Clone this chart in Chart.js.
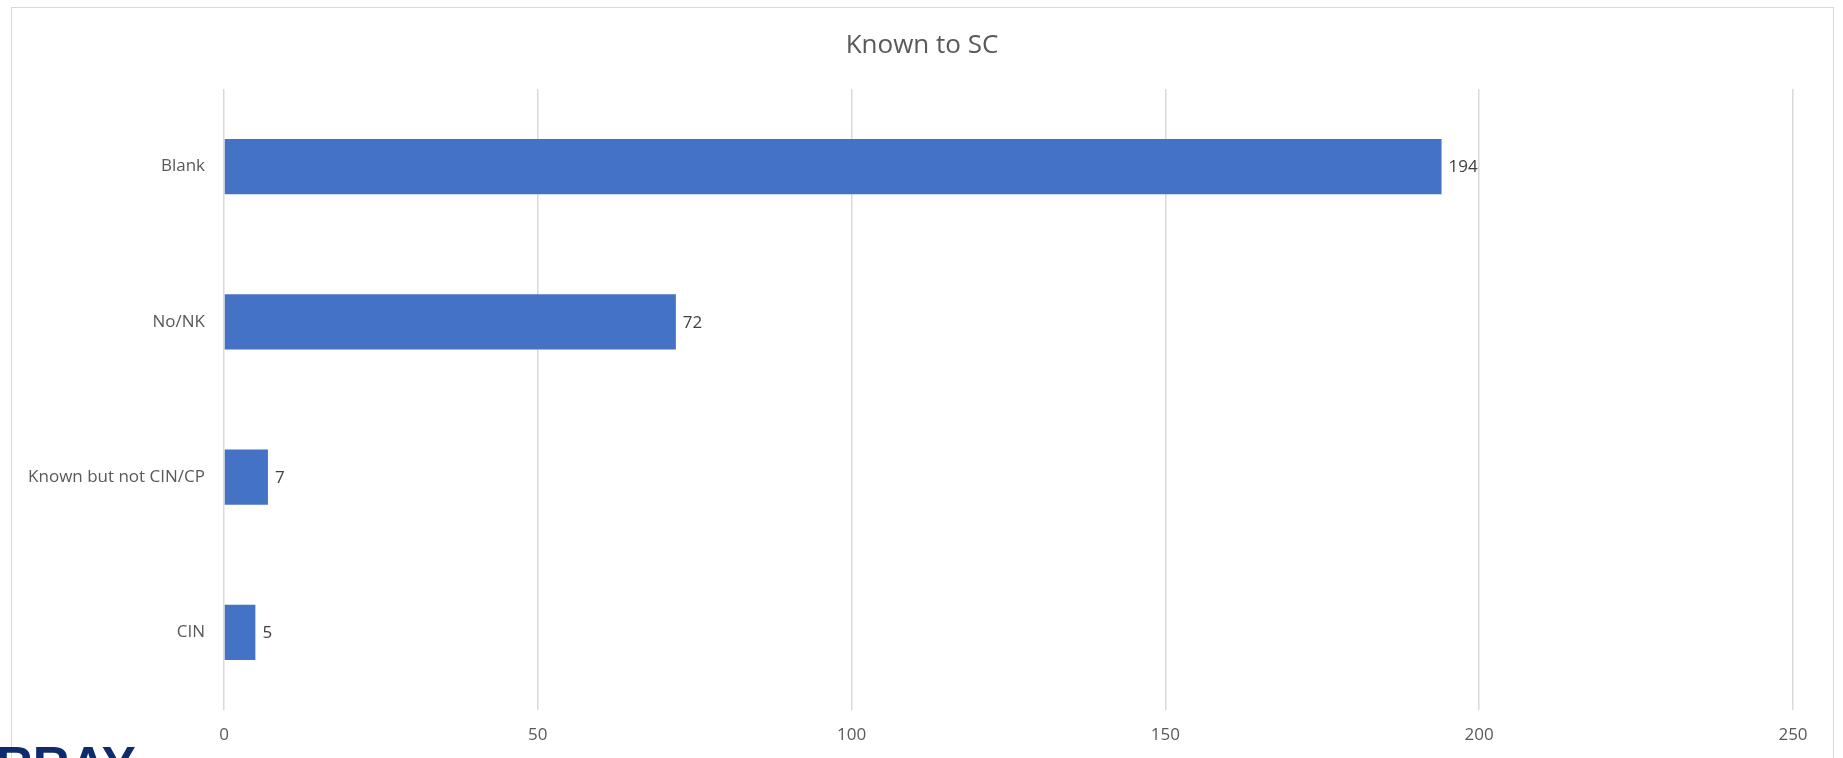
<!DOCTYPE html>
<html>
<head>
<meta charset="utf-8">
<script src="https://cdn.jsdelivr.net/npm/chart.js@4.4.0/dist/chart.umd.min.js"></script>
<style>
  html, body { margin: 0; padding: 0; background: #fff; overflow: hidden; }
  #wrap { position: relative; width: 1843px; height: 758px; }
  #frame { position: absolute; left: 11px; top: 7px; width: 1823px; height: 800px; border: 1.5px solid #d9d9d9; box-sizing: border-box; }
  #logo { position: absolute; left: -4px; top: 740px; font: bold 51px "Liberation Sans", Arial, sans-serif; line-height: 1; color: #0f2b6b; }
  canvas { position: absolute; left: 0; top: 0; }
</style>
</head>
<body>
<div id="wrap">
  <div id="frame"></div>
  <canvas id="knownChart" width="1843" height="758"></canvas>
  <div id="logo">RRAY</div>
</div>
<script>
const chartTitle = "Known to SC";
const categories = ["Blank", "No/NK", "Known but not CIN/CP", "CIN"];
const counts = [194, 72, 7, 5];
const xTicks = [0, 50, 100, 150, 200, 250];

const FONT = '"Open Sans", "Liberation Sans", sans-serif';

// title centred on the outer frame, not the canvas
const frameTitle = {
  id: "frameTitle",
  afterDraw(chart) {
    const ctx = chart.ctx;
    ctx.save();
    ctx.font = "26px " + FONT;
    ctx.fillStyle = "#595959";
    ctx.textAlign = "center";
    ctx.textBaseline = "middle";
    ctx.fillText(chartTitle, 922, 46);
    ctx.restore();
  },
};

// values at the end of each bar
const valueLabels = {
  id: "valueLabels",
  afterDatasetsDraw(chart) {
    const ctx = chart.ctx;
    const meta = chart.getDatasetMeta(0);
    ctx.save();
    ctx.font = "17px " + FONT;
    ctx.fillStyle = "#404040";
    ctx.textAlign = "left";
    ctx.textBaseline = "middle";
    meta.data.forEach((bar, i) => {
      ctx.fillText(counts[i], bar.x + 7, bar.y + 1);
    });
    ctx.restore();
  },
};

const ctx = document.getElementById("knownChart").getContext("2d");

new Chart(ctx, {
  type: "bar",
  data: {
    labels: categories,
    datasets: [
      {
        label: chartTitle,
        data: counts,
        backgroundColor: "#4472C4",
        borderWidth: 0,
        categoryPercentage: 1,
        barPercentage: 0.355,
      },
    ],
  },
  options: {
    indexAxis: "y",
    responsive: false,
    animation: false,
    layout: {
      padding: { left: 0, right: 50, top: 89, bottom: 0 },
    },
    plugins: {
      legend: { display: false },
      tooltip: { enabled: false },
      title: { display: false },
    },
    scales: {
      x: {
        min: 0,
        max: 250,
        afterBuildTicks: (axis) => {
          axis.ticks = xTicks.map((v) => ({ value: v }));
        },
        afterFit: (axis) => {
          axis.height = 48;
        },
        border: { display: false },
        grid: { color: "#d9d9d9", lineWidth: 1.5, drawTicks: false },
        ticks: {
          color: "#595959",
          padding: 15,
          font: { family: FONT, size: 17 },
        },
      },
      y: {
        afterFit: (axis) => {
          axis.width = 224;
        },
        border: { display: false },
        grid: { display: false, drawTicks: false },
        ticks: {
          color: "#595959",
          padding: 19,
          font: { family: FONT, size: 17 },
        },
      },
    },
  },
  plugins: [valueLabels, frameTitle],
});
</script>
</body>
</html>
